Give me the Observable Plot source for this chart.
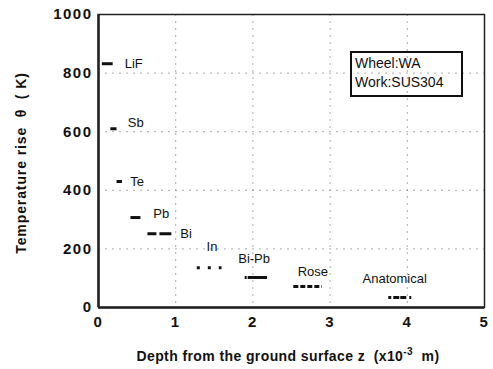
<!DOCTYPE html>
<html>
<head>
<meta charset="utf-8">
<script src="https://cdn.jsdelivr.net/npm/d3@7"></script>
<script src="https://cdn.jsdelivr.net/npm/@observablehq/plot@0.6"></script>
<style>
  html, body { margin: 0; padding: 0; background: #fff; }
  #wrap { position: relative; width: 493px; height: 369px; font-family: "Liberation Sans", Arial, sans-serif; }
  #box { position: absolute; left: 350px; top: 51px; width: 106px; height: 41px; border: 2px solid #111;
         font-size: 14px; line-height: 19px; padding: 1px 0 0 3px; box-sizing: content-box; color: #111; }
</style>
</head>
<body>
<div id="wrap"></div>
<script>
// Melting-point tracer data: material, depth range (x10^-3 m), temperature rise (K)
const materials = ["LiF", "Sb", "Te", "Pb", "Bi", "In", "Bi-Pb", "Rose", "Anatomical"];
const depthStart = [0.05, 0.16, 0.24, 0.42, 0.64, 1.28, 1.90, 2.53, 3.76];
const depthEnd   = [0.19, 0.24, 0.31, 0.55, 0.95, 1.60, 2.19, 2.90, 4.11];
const tempRise   = [832, 610, 430, 307, 252, 136, 102, 72, 34];
// label anchor positions (data units)
const labelDepth = [0.34, 0.38, 0.41, 0.71, 1.06, 1.40, 1.81, 2.58, 3.42];
const labelTemp  = [832, 630, 430, 320, 250, 208, 167, 123, 99];
const xTicks = [0, 1, 2, 3, 4, 5];
const yTicks = [0, 200, 400, 600, 800, 1000];
const boxLines = ["Wheel:WA", "Work:SUS304"];

const dashStyles = ["", "", "", "", "9,3,14", "3,8", "2,1,40", "5,2", "3,2,6,1,6"];

const rows = materials.map((m, i) => ({
  m, z1: depthStart[i], z2: depthEnd[i], t: tempRise[i], lz: labelDepth[i], lt: labelTemp[i], dash: dashStyles[i]
}));

const segMarks = rows.map(r => Plot.ruleY([r], {
  x1: "z1", x2: "z2", y: "t", stroke: "#111", strokeWidth: 3,
  strokeDasharray: r.dash || null
}));

const plot = Plot.plot({
  width: 493,
  height: 369,
  marginLeft: 98,
  marginRight: 9,
  marginTop: 14,
  marginBottom: 62,
  style: { fontFamily: "'Liberation Sans', Arial, sans-serif", background: "#fff", color: "#111" },
  x: { domain: [0, 5] },
  y: { domain: [0, 1000] },
  marks: [
    Plot.gridX(xTicks.filter(d => d > 0 && d < 5), { stroke: "#888", strokeOpacity: 0.7, strokeDasharray: "2,5" }),
    Plot.gridY(yTicks.filter(d => d > 0 && d < 1000), { stroke: "#888", strokeOpacity: 0.7, strokeDasharray: "2,5" }),
    Plot.frame({ stroke: "#222", strokeWidth: 1.5 }),
    Plot.ruleX([0], { stroke: "#222", strokeWidth: 2.5 }),
    Plot.ruleY([0], { stroke: "#222", strokeWidth: 2.5 }),
    Plot.axisX(xTicks, { tickSize: 0, tickPadding: 9, fontSize: 15, fontWeight: "bold", label: null, tickFormat: d => String(d), fill: "#111" }),
    Plot.axisY(yTicks, { tickSize: 0, tickPadding: 6, fontSize: 15, fontWeight: "bold", label: null, tickFormat: d => String(d), fill: "#111" }),
    ...segMarks,
    Plot.text(rows, { x: "lz", y: "lt", text: "m", textAnchor: "start", fontSize: 13, fill: "#111" })
  ]
});

const svg = d3.select(plot);
svg.selectAll("g[aria-label='x-axis tick label'] text, g[aria-label='y-axis tick label'] text")
   .style("letter-spacing", "1.5px");

// axis titles
const xt = svg.append("text")
  .attr("x", 288).attr("y", 361)
  .attr("text-anchor", "middle")
  .attr("font-size", 14).attr("font-weight", "bold").attr("fill", "#111")
  .style("letter-spacing", "0.4px");
xt.append("tspan").text("Depth from the ground surface z  (x10");
xt.append("tspan").attr("dy", -6).attr("font-size", 10).text("-3");
xt.append("tspan").attr("dy", 6).text("  m)");

svg.append("text")
  .attr("transform", "translate(26,163) rotate(-90)")
  .attr("text-anchor", "middle")
  .attr("font-size", 14).attr("font-weight", "bold").attr("fill", "#111")
  .style("letter-spacing", "0.9px")
  .text("Temperature rise  θ  ( K)");

const wrap = document.getElementById("wrap");
wrap.appendChild(plot);
const box = document.createElement("div");
box.id = "box";
box.innerHTML = boxLines.map(s => `<div>${s}</div>`).join("");
wrap.appendChild(box);
</script>
</body>
</html>
